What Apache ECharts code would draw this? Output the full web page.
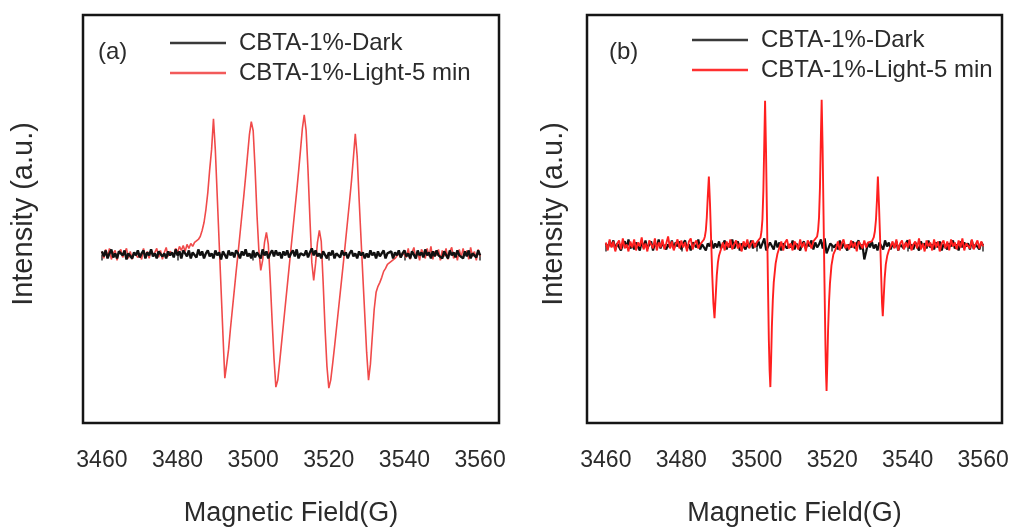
<!DOCTYPE html>
<html>
<head>
<meta charset="utf-8">
<script src="https://cdn.jsdelivr.net/npm/echarts@6/dist/echarts.min.js"></script>
<style>html,body{margin:0;padding:0;background:#fff;}#c{width:1014px;height:532px;}</style>
</head>
<body>
<div id="c"></div>
<script>
// Magnetic field grid (G), 0.5 G steps
const field = [
3460,3460.5,3461,3461.5,3462,3462.5,3463,3463.5,3464,3464.5,3465,3465.5,3466,3466.5,3467,3467.5,3468,3468.5,3469,3469.5,
3470,3470.5,3471,3471.5,3472,3472.5,3473,3473.5,3474,3474.5,3475,3475.5,3476,3476.5,3477,3477.5,3478,3478.5,3479,3479.5,
3480,3480.5,3481,3481.5,3482,3482.5,3483,3483.5,3484,3484.5,3485,3485.5,3486,3486.5,3487,3487.5,3488,3488.5,3489,3489.5,
3490,3490.5,3491,3491.5,3492,3492.5,3493,3493.5,3494,3494.5,3495,3495.5,3496,3496.5,3497,3497.5,3498,3498.5,3499,3499.5,
3500,3500.5,3501,3501.5,3502,3502.5,3503,3503.5,3504,3504.5,3505,3505.5,3506,3506.5,3507,3507.5,3508,3508.5,3509,3509.5,
3510,3510.5,3511,3511.5,3512,3512.5,3513,3513.5,3514,3514.5,3515,3515.5,3516,3516.5,3517,3517.5,3518,3518.5,3519,3519.5,
3520,3520.5,3521,3521.5,3522,3522.5,3523,3523.5,3524,3524.5,3525,3525.5,3526,3526.5,3527,3527.5,3528,3528.5,3529,3529.5,
3530,3530.5,3531,3531.5,3532,3532.5,3533,3533.5,3534,3534.5,3535,3535.5,3536,3536.5,3537,3537.5,3538,3538.5,3539,3539.5,
3540,3540.5,3541,3541.5,3542,3542.5,3543,3543.5,3544,3544.5,3545,3545.5,3546,3546.5,3547,3547.5,3548,3548.5,3549,3549.5,
3550,3550.5,3551,3551.5,3552,3552.5,3553,3553.5,3554,3554.5,3555,3555.5,3556,3556.5,3557,3557.5,3558,3558.5,3559,3559.5,
3560];

// Panel (a) – dark
const darkA = [
3,-2,4,-4,1,5,-3,1,-4,3,2,-1,4,-5,1,3,-4,2,-1,4,
-3,1,4,-4,2,-1,5,-2,1,-4,3,4,-2,1,-4,3,-1,2,-3,5,
-1,3,-4,4,1,-2,4,-4,2,1,-3,5,-1,3,-4,1,4,-2,1,-4,
4,-1,2,-5,3,1,-4,4,-1,2,-3,4,1,-4,3,-1,5,-2,1,-4,
4,-3,2,1,-4,5,-1,3,-4,1,4,-2,4,-1,2,-4,3,-1,4,-3,
1,4,-2,5,-4,1,3,-1,4,-3,2,6,-1,4,-2,1,-4,3,1,-4,
2,-1,4,-4,1,3,-3,4,-1,2,-4,1,4,-2,1,-4,3,-1,2,-4,
1,-3,4,-1,2,-4,3,-2,1,4,-4,1,-1,3,-4,2,-1,4,-3,1,
4,-2,1,-4,3,1,-4,4,-1,2,-3,5,-1,2,-4,3,-2,4,-1,1,
-4,3,1,-4,4,-1,2,-3,4,-1,1,-4,3,-2,4,-4,1,2,-3,4,
-1];

// Panel (a) – light, 5 min
const lightA = [
3,-4,5,-2,6,-5,1,4,-6,2,5,-3,-1,6,-4,3,-5,2,4,-3,
1,-5,6,-2,3,-4,5,-1,2,6,-3,4,-5,2,7,-2,3,5,-1,6,
2,8,4,9,3,10,6,11,8,12,14,15,18,24,32,45,62,85,105,136,
104,58,12,-34,-80,-124,-110,-95,-74,-55,-36,-17,1,20,39,58,78,99,120,133,
124,86,40,4,-16,-6,12,22,10,-25,-66,-104,-133,-126,-108,-89,-70,-51,-32,-13,
6,25,44,63,83,104,126,140,124,84,36,-8,-26,-9,12,24,13,-28,-74,-112,
-134,-126,-110,-93,-75,-57,-39,-21,-3,16,35,54,74,97,121,98,56,17,-22,-60,
-98,-126,-110,-82,-55,-38,-32,-28,-23,-17,-14,-10,-12,-7,-9,-4,-6,1,-3,2,
4,-3,6,-5,2,7,-4,3,-6,5,1,-4,6,-2,8,-5,3,-1,5,-6,
4,-2,6,-5,3,7,-4,2,-6,5,-3,6,-1,4,-5,7,-2,3,-6,5,
-2];

// Panel (b) – dark
const darkB = [
2,-3,4,-1,5,-4,2,3,-5,1,4,-2,6,-3,1,-4,3,2,-5,4,
-2,5,-3,1,4,-5,2,-1,6,-3,2,4,-4,1,-2,5,-3,3,-1,4,
-4,2,5,-3,1,-5,3,4,-2,6,-4,1,3,-5,2,-1,5,-3,2,-2,
4,-3,1,5,-4,2,-2,6,-3,1,4,-5,2,3,-4,1,-2,5,-3,2,
-1,4,-3,2,7,-5,-7,3,1,-4,5,-2,3,-5,2,4,-3,1,-2,5,
-4,2,3,-5,1,4,-3,2,-1,5,-4,3,-2,1,6,-3,7,-8,-3,2,
4,-2,1,-4,5,-3,2,3,-5,1,-2,4,-3,2,5,-4,1,-14,-6,3,
-2,4,-3,1,-5,3,2,-4,5,-1,3,-4,2,-2,4,-5,1,3,-3,2,
5,-3,1,-4,3,2,-5,4,-1,2,-3,5,-2,1,-4,3,-2,4,-5,1,
3,-4,2,-1,5,-3,1,-5,4,-2,3,-1,2,-4,5,-3,1,2,-4,3,
0];

// Panel (b) – light, 5 min: [field (G), intensity]
const lightB = [
[3460,3],[3460.5,-5],[3461,6],[3461.5,-2],[3462,4],[3462.5,-6],[3463,2],[3463.5,5],[3464,-4],[3464.5,7],
[3465,-3],[3465.5,1],[3466,-6],[3466.5,4],[3467,-2],[3467.5,6],[3468,-5],[3468.5,3],[3469,-1],[3469.5,8],
[3470,-4],[3470.5,2],[3471,-6],[3471.5,5],[3472,1],[3472.5,-3],[3473,7],[3473.5,-5],[3474,3],[3474.5,-2],
[3475,6],[3475.5,-4],[3476,2],[3476.5,9],[3477,-3],[3477.5,4],[3478,-5],[3478.5,1],[3479,6],[3479.5,-3],
[3480,5],[3480.5,-2],[3481,3],[3481.5,-6],[3482,4],[3482.5,7],[3483,-4],[3483.5,2],[3484,5],[3484.5,-3],
[3485,1],[3485.5,3],
[3486,6],[3486.25,9],[3486.5,15],[3486.75,28],[3487,48],[3487.3,69],[3487.6,42],[3487.9,6],[3488.2,-30],
[3488.5,-58],[3488.8,-73],[3489.1,-52],[3489.4,-30],[3489.7,-17],[3490,-10],[3490.5,-4],
[3491,3],[3491.5,-5],[3492,4],[3492.5,-2],[3493,6],[3493.5,-4],[3494,1],[3494.5,5],[3495,-3],[3495.5,2],
[3496,-6],[3496.5,4],[3497,-1],[3497.5,6],[3498,-3],[3498.5,2],[3499,5],[3499.5,-2],[3500,3],[3500.5,4],
[3501,8],[3501.25,14],[3501.5,26],[3501.75,55],[3502,105],[3502.2,145],[3502.45,95],[3502.7,30],[3502.95,-35],
[3503.2,-95],[3503.4,-125],[3503.6,-142],[3503.8,-115],[3504,-82],[3504.25,-55],[3504.5,-37],[3505,-18],[3505.5,-8],
[3506,-2],[3506.5,4],[3507,-5],[3507.5,3],[3508,6],[3508.5,-3],[3509,2],[3509.5,-5],[3510,4],[3510.5,1],
[3511,-4],[3511.5,6],[3512,-2],[3512.5,3],[3513,-6],[3513.5,5],[3514,2],[3514.5,-3],[3515,4],[3515.5,5],
[3516,9],[3516.25,15],[3516.5,28],[3516.75,58],[3517,110],[3517.2,146],[3517.45,98],[3517.7,30],[3517.95,-38],
[3518.2,-100],[3518.35,-128],[3518.5,-146],[3518.7,-118],[3518.9,-85],[3519.15,-57],[3519.4,-38],[3519.8,-20],[3520.3,-9],
[3521,-3],[3521.5,4],[3522,-5],[3522.5,2],[3523,6],[3523.5,-3],[3524,1],[3524.5,-4],[3525,5],[3525.5,-2],
[3526,3],[3526.5,-6],[3527,4],[3527.5,1],[3528,-3],[3528.5,5],[3529,-2],[3529.5,3],[3530,2],[3530.5,4],
[3531,8],[3531.3,14],[3531.6,26],[3531.85,45],[3532.1,69],[3532.4,40],[3532.7,6],[3533,-33],[3533.2,-58],
[3533.4,-71],[3533.65,-52],[3533.9,-33],[3534.2,-19],[3534.6,-10],[3535,-5],[3535.5,-1],
[3536,4],[3536.5,-3],[3537,6],[3537.5,-5],[3538,2],[3538.5,5],[3539,-4],[3539.5,3],[3540,-2],[3540.5,6],
[3541,-5],[3541.5,1],[3542,4],[3542.5,-3],[3543,7],[3543.5,-4],[3544,2],[3544.5,-6],[3545,5],[3545.5,-1],
[3546,3],[3546.5,-5],[3547,6],[3547.5,-2],[3548,4],[3548.5,-6],[3549,2],[3549.5,5],[3550,-3],[3550.5,4],
[3551,-5],[3551.5,6],[3552,-1],[3552.5,3],[3553,-4],[3553.5,5],[3554,-2],[3554.5,7],[3555,-5],[3555.5,2],
[3556,4],[3556.5,-3],[3557,6],[3557.5,-4],[3558,1],[3558.5,5],[3559,-3],[3559.5,4],[3560,-1]
];

const tickValues = [3460, 3480, 3500, 3520, 3540, 3560];
const seriesNames = ['CBTA-1%-Dark', 'CBTA-1%-Light-5 min'];
const panelLabels = ['(a)', '(b)'];
const xTitle = 'Magnetic Field(G)';
const yTitle = 'Intensity (a.u.)';

const FONT = '"Liberation Sans", Arial, Helvetica, sans-serif';
const TXT = '#2b2b2b';

function pair(xs, ys) { return xs.map((x, i) => [x, ys[i]]); }

function xAxisFor(gi) {
  return {
    type: 'value', gridIndex: gi, min: 3455, max: 3565,
    axisLine: { show: false },
    splitLine: { show: false },
    axisTick: { show: true, inside: false, length: 6, customValues: tickValues, lineStyle: { color: '#333', width: 1.5 } },
    axisLabel: { show: true, margin: 26, customValues: tickValues, formatter: v => String(v),
      color: TXT, fontSize: 23, fontFamily: FONT },
    name: xTitle, nameLocation: 'middle', nameGap: 77,
    nameTextStyle: { fontSize: 27, color: TXT, fontFamily: FONT }
  };
}
function yAxisFor(gi, mn, mx, gap) {
  return {
    type: 'value', gridIndex: gi, min: mn, max: mx,
    axisLine: { show: false }, axisTick: { show: false }, axisLabel: { show: false }, splitLine: { show: false },
    name: yTitle, nameLocation: 'middle', nameGap: gap,
    nameTextStyle: { fontSize: 29, color: TXT, fontFamily: FONT, padding: [0, 0, 0, 10] }
  };
}
function legendFor(left, top, colors) {
  return {
    data: [
      { name: seriesNames[0], icon: 'rect', itemStyle: { color: colors[0] } },
      { name: seriesNames[1], icon: 'rect', itemStyle: { color: colors[1] } }
    ],
    orient: 'vertical', left: left, top: top, padding: 0,
    itemWidth: 56, itemHeight: 2.5, itemGap: 6,
    textStyle: { fontSize: 24, color: TXT, fontFamily: FONT, padding: [0, 0, 0, 8] }
  };
}

const chart = echarts.init(document.getElementById('c'), null, { renderer: 'canvas' });
chart.setOption({
  animation: false,
  backgroundColor: '#fff',
  title: [
    { text: panelLabels[0], left: 98, top: 40, padding: 0, textStyle: { fontSize: 24, fontWeight: 'normal', color: TXT, fontFamily: FONT } },
    { text: panelLabels[1], left: 609, top: 40, padding: 0, textStyle: { fontSize: 24, fontWeight: 'normal', color: TXT, fontFamily: FONT } }
  ],
  legend: [legendFor(170, 31, ['#3a3a3a', '#f25a5a']), legendFor(692, 28, ['#3a3a3a', '#ff3030'])],
  grid: [
    { left: 83, top: 15, width: 416, height: 409, show: true, borderWidth: 2.5, borderColor: '#151515' },
    { left: 587, top: 15, width: 415, height: 409, show: true, borderWidth: 2.5, borderColor: '#151515' }
  ],
  xAxis: [xAxisFor(0), xAxisFor(1)],
  yAxis: [yAxisFor(0, -169, 240, 45), yAxisFor(1, -178, 231, 19)],
  series: [
    { name: seriesNames[1], type: 'line', xAxisIndex: 0, yAxisIndex: 0, data: pair(field, lightA),
      symbol: 'none', showSymbol: false, lineStyle: { color: '#f04a4a', width: 1.6 }, itemStyle: { color: '#f04a4a' } },
    { name: seriesNames[0], type: 'line', xAxisIndex: 0, yAxisIndex: 0, data: pair(field, darkA),
      symbol: 'none', showSymbol: false, lineStyle: { color: '#111', width: 2.4 }, itemStyle: { color: '#111' } },
    { name: seriesNames[0], type: 'line', xAxisIndex: 1, yAxisIndex: 1, data: pair(field, darkB),
      symbol: 'none', showSymbol: false, lineStyle: { color: '#111', width: 2.2 }, itemStyle: { color: '#111' } },
    { name: seriesNames[1], type: 'line', xAxisIndex: 1, yAxisIndex: 1, data: lightB,
      symbol: 'none', showSymbol: false, lineStyle: { color: '#ff1f1f', width: 1.9 }, itemStyle: { color: '#ff1f1f' } }
  ]
});
</script>
</body>
</html>
